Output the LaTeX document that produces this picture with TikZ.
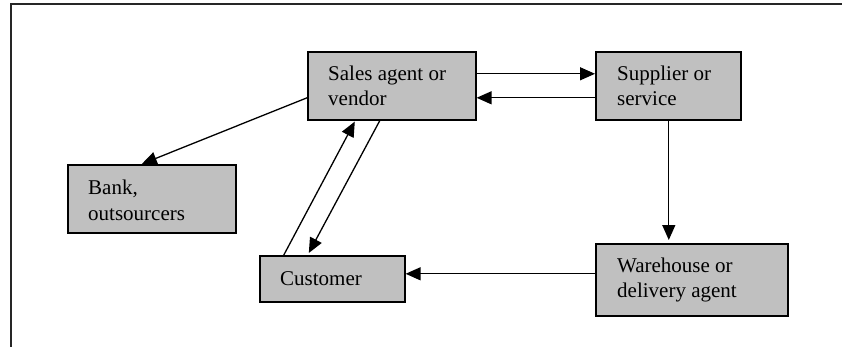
\documentclass[tikz,border=0pt]{standalone}
\usepackage{fontspec}
\setmainfont{Liberation Serif}
\usetikzlibrary{arrows.meta}
\begin{document}
\begin{tikzpicture}[x=1pt,y=-1pt,
  boxnode/.style={draw=black,line width=1.6pt,fill=boxgray,rectangle,inner sep=0pt,anchor=north west},
  lbl/.style={anchor=base west,inner sep=0pt,font=\fontsize{21}{25}\selectfont,align=left},
  arr/.style={line width=1.3pt,-{Triangle[length=15pt,width=13pt]}},
  frameline/.style={line width=1.6pt,draw=black!85}]
\definecolor{boxgray}{HTML}{C0C0C0}
\useasboundingbox (0,0) rectangle (842,347);
\draw[frameline] (11,347) -- (11,4) -- (842,4);
% boxes
\node[boxnode,minimum width=168pt,minimum height=68pt] (sales) at (307,51) {};
\node[boxnode,minimum width=145pt,minimum height=68pt] (supplier) at (595,51) {};
\node[boxnode,minimum width=168pt,minimum height=68pt] (bank) at (67,164) {};
\node[boxnode,minimum width=145pt,minimum height=46pt] (customer) at (259,255) {};
\node[boxnode,minimum width=192pt,minimum height=72pt] (warehouse) at (595,243) {};
% labels (base = baseline of last line)
\node[lbl] (tsales) at (328,106) {Sales agent or\\vendor};
\node[lbl] (tsupplier) at (617,106) {Supplier or\\service};
\node[lbl] (tbank) at (88,220) {Bank,\\outsourcers};
\node[lbl] (tcustomer) at (280,285) {Customer};
\node[lbl] (twarehouse) at (617,297) {Warehouse or\\delivery agent};
% connectors
\draw[arr] ([yshift=12pt]sales.east) -- ([yshift=12pt]supplier.west);
\draw[arr] ([yshift=-12pt]supplier.west) -- ([yshift=-12pt]sales.east);
\draw[arr] ([yshift=-12pt]sales.west) -- ([xshift=-10pt]bank.north);
\draw[arr] ([xshift=-48.5pt]customer.north) -- ([xshift=-37pt,yshift=-1pt]sales.south);
\draw[arr] ([xshift=-12pt]sales.south) -- ([xshift=-23.5pt,yshift=2pt]customer.north);
\draw[arr] ([xshift=0.5pt]supplier.south) -- ([xshift=0.5pt,yshift=3pt]warehouse.north -| supplier.south);
\draw[arr] ([yshift=6pt]warehouse.west) -- ([yshift=6pt]customer.east |- warehouse.west);
\end{tikzpicture}
\end{document}
